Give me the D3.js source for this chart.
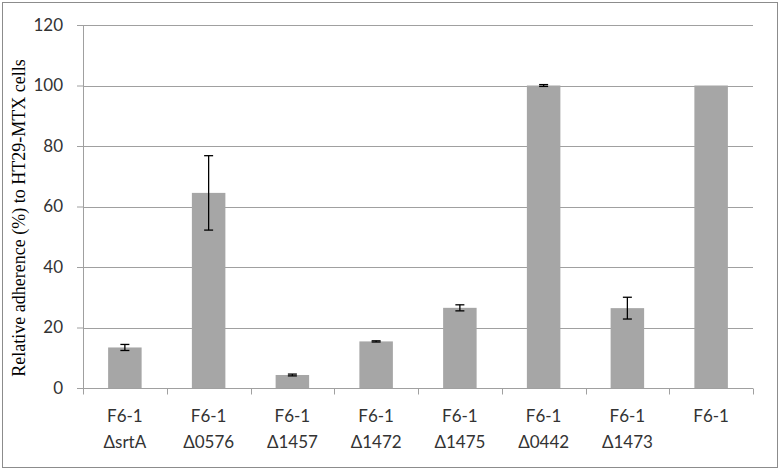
<!DOCTYPE html>
<html>
<head>
<meta charset="utf-8">
<script src="https://cdn.jsdelivr.net/npm/d3@7"></script>
<style>
  body { margin: 0; background: #fff; }
  svg { display: block; }
</style>
</head>
<body>
<svg id="chart" width="780" height="470"></svg>
<script>
const strains = ["F6-1", "F6-1", "F6-1", "F6-1", "F6-1", "F6-1", "F6-1", "F6-1"]
const mutants = ["\u0394srtA", "\u03940576", "\u03941457", "\u03941472", "\u03941475", "\u03940442", "\u03941473", ""]
const adherence = [13.4, 64.5, 4.3, 15.4, 26.5, 100, 26.4, 100]
const errors = [1.0, 12.3, 0.3, 0.2, 1.0, 0.3, 3.6, 0]
const yTicks = [0, 20, 40, 60, 80, 100, 120]

const width = 780
const height = 470
const margin = { top: 25, right: 27, bottom: 82, left: 83 }

const svg = d3.select('#chart')

// outer frame
svg.append('rect')
  .attr('x', 2.5).attr('y', 2.5)
  .attr('width', width - 5).attr('height', height - 5)
  .attr('fill', 'none')
  .attr('stroke', '#8c8c8c')

const x = d3.scaleBand()
  .domain(d3.range(adherence.length))
  .range([margin.left, width - margin.right])
  .paddingInner(0.6)
  .paddingOuter(0.3)

const y = d3.scaleLinear()
  .domain([0, 120])
  .range([height - margin.bottom, margin.top])

// gridlines + y labels
const yAxis = svg.append('g')
  .attr('transform', `translate(${margin.left},0)`)
  .call(d3.axisLeft(y).tickValues(yTicks).tickSize(6).tickSizeOuter(0)
    .tickPadding(14))

yAxis.select('.domain').attr('stroke', '#a0a0a0')
yAxis.selectAll('.tick line').attr('stroke', '#a0a0a0')
yAxis.selectAll('.tick text')
  .attr('font-family', 'Lato, "Open Sans", sans-serif')
  .attr('font-size', 17)
  .attr('fill', '#333')

svg.append('g')
  .selectAll('line')
  .data(yTicks.filter(d => d > 0))
  .join('line')
  .attr('x1', margin.left)
  .attr('x2', width - margin.right)
  .attr('y1', d => Math.round(y(d)) + 0.5)
  .attr('y2', d => Math.round(y(d)) + 0.5)
  .attr('stroke', '#a0a0a0')

// bars
svg.append('g')
  .selectAll('rect')
  .data(adherence)
  .join('rect')
  .attr('x', (d, i) => x(i))
  .attr('y', d => y(d))
  .attr('width', x.bandwidth())
  .attr('height', d => y(0) - y(d))
  .attr('fill', '#a6a6a6')

// error bars
const eb = svg.append('g').attr('stroke', '#000').attr('stroke-width', 1.3)
adherence.forEach((v, i) => {
  if (!errors[i]) return
  const cx = x(i) + x.bandwidth() / 2
  const top = y(v + errors[i])
  const bot = y(v - errors[i])
  eb.append('line').attr('x1', cx).attr('x2', cx).attr('y1', top).attr('y2', bot)
  eb.append('line').attr('x1', cx - 4.5).attr('x2', cx + 4.5).attr('y1', top).attr('y2', top)
  eb.append('line').attr('x1', cx - 4.5).attr('x2', cx + 4.5).attr('y1', bot).attr('y2', bot)
})

// x axis
const base = Math.round(y(0)) + 0.5
const xAxis = svg.append('g')
xAxis.append('line')
  .attr('x1', margin.left).attr('x2', width - margin.right)
  .attr('y1', base).attr('y2', base)
  .attr('stroke', '#a0a0a0')
xAxis.selectAll('.tk')
  .data(d3.range(adherence.length + 1))
  .join('line')
  .attr('class', 'tk')
  .attr('x1', i => Math.round(margin.left + i * x.step()) + 0.5)
  .attr('x2', i => Math.round(margin.left + i * x.step()) + 0.5)
  .attr('y1', base).attr('y2', base + 6)
  .attr('stroke', '#a0a0a0')

const labels = xAxis.selectAll('text')
  .data(d3.range(adherence.length))
  .join('text')
  .attr('text-anchor', 'middle')
  .attr('font-family', 'Lato, "Open Sans", sans-serif')
  .attr('font-size', 17)
  .attr('fill', '#333')
labels.append('tspan')
  .attr('x', i => x(i) + x.bandwidth() / 2)
  .attr('y', 422)
  .text(i => strains[i])
labels.append('tspan')
  .attr('x', i => x(i) + x.bandwidth() / 2)
  .attr('y', 448)
  .text(i => mutants[i])

// y title
svg.append('text')
  .attr('transform', 'translate(25,218) rotate(-90)')
  .attr('text-anchor', 'middle')
  .attr('font-family', '"Liberation Serif", "Times New Roman", serif')
  .attr('font-size', 18)
  .attr('fill', '#000')
  .text('Relative adherence (%) to HT29-MTX cells')
</script>
</body>
</html>
